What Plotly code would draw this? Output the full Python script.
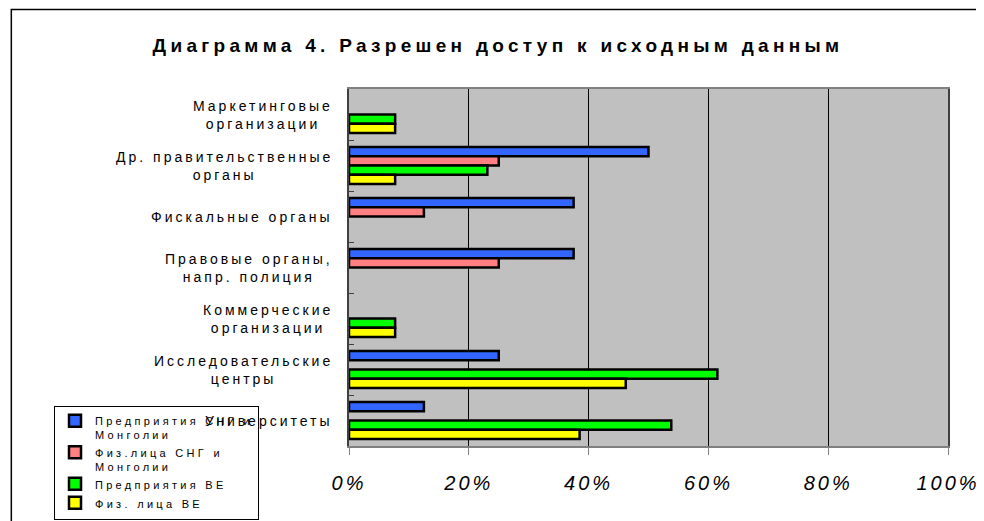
import plotly.graph_objects as go

# ---- data ----
categories = [
    "Маркетинговые организации",
    "Др. правительственные органы",
    "Фискальные органы",
    "Правовые органы, напр. полиция",
    "Коммерческие организации",
    "Исследовательские центры",
    "Университеты",
]
category_labels = [
    "Маркетинговые<br>организации",
    "Др. правительственные<br>органы",
    "Фискальные органы",
    "Правовые органы,<br>напр. полиция",
    "Коммерческие<br>организации",
    "Исследовательские<br>центры",
    "Университеты",
]
series_names = [
    "Предприятия СНГ и<br>Монголии",
    "Физ.лица СНГ и<br>Монголии",
    "Предприятия ВЕ",
    "Физ. лица ВЕ",
]
enterprises_cis = [None, 50.0, 37.5, 37.5, None, 25.0, 12.5]
persons_cis = [None, 25.0, 12.5, 25.0, None, None, None]
enterprises_we = [7.7, 23.1, None, None, 7.7, 61.5, 53.8]
persons_we = [7.7, 7.7, None, None, 7.7, 46.2, 38.5]
series_values = [enterprises_cis, persons_cis, enterprises_we, persons_we]
series_colors = ["#3366FF", "#FF8080", "#00FF00", "#FFFF00"]

x_tickvals = [0, 20, 40, 60, 80, 100]
x_ticklabels = ["0%", "20%", "40%", "60%", "80%", "100%"]

title_text = "Диаграмма 4. Разрешен доступ к исходным данным"

FONT = "Liberation Sans, Arial, sans-serif"

# page body has an 8px margin; layout below is in figure pixels
W, H = 984, 521
L, T, PW, PH = 341, 81, 604, 357


def spaced(text, px):
    parts = text.split("<br>")
    return "<br>".join(
        '<span style="letter-spacing:%gpx">%s</span>' % (px, p) for p in parts
    )


fig = go.Figure()
for name, vals, col in zip(series_names, series_values, series_colors):
    fig.add_trace(go.Bar(
        y=categories, x=vals, orientation="h",
        name=spaced(name, 3.3),
        marker=dict(color=col, line=dict(color="#000000", width=2.5)),
        hoverinfo="skip",
    ))

annotations = []
for cat, lab in zip(categories, category_labels):
    annotations.append(dict(
        x=-0.023, xref="paper", y=cat, yref="y",
        text=spaced(lab, 3), showarrow=False,
        xanchor="right", yanchor="middle", align="center",
        font=dict(family=FONT, size=14, color="#000000"),
    ))

# outer chart frame (partly outside the visible window)
fig.add_shape(
    type="rect", xref="paper", yref="paper",
    x0=(0.5 - L) / PW, x1=(W + 20 - L) / PW,
    y0=(T + PH - (H + 20)) / PH, y1=(T + PH - 1.5) / PH,
    line=dict(color="#000000", width=1.5), fillcolor="rgba(0,0,0,0)",
)

fig.update_layout(
    width=W, height=H, autosize=False,
    margin=dict(l=L, r=W - L - PW, t=T, b=H - T - PH),
    paper_bgcolor="#FFFFFF", plot_bgcolor="#C0C0C0",
    barmode="group", bargap=0.27, bargroupgap=0,
    font=dict(family=FONT, color="#000000"),
    title=dict(
        text="<b>" + spaced(title_text, 4.3) + "</b>",
        xref="container", yref="container", x=490 / W, y=1 - 37 / H,
        xanchor="center", yanchor="middle",
        font=dict(family=FONT, size=19, color="#000000"),
    ),
    xaxis=dict(
        range=[0, 100], tickvals=x_tickvals,
        ticktext=["<i>" + spaced(t, 3) + "</i>" for t in x_ticklabels],
        tickfont=dict(family=FONT, size=20, color="#000000"),
        showgrid=True, gridcolor="#000000", gridwidth=1,
        ticks="outside", ticklen=7, tickcolor="#808080", tickwidth=1,
        ticklabelstandoff=11,
        showline=True, linecolor="#808080", linewidth=2, mirror=True,
        zeroline=False, fixedrange=True,
    ),
    yaxis=dict(
        type="category", categoryorder="array", categoryarray=categories,
        autorange="reversed", showticklabels=False,
        ticks="inside", tickson="boundaries", ticklen=5,
        tickcolor="#404040", tickwidth=1,
        showgrid=False, showline=True, linecolor="#404040", linewidth=2,
        mirror=True, zeroline=False, fixedrange=True,
    ),
    legend=dict(
        xref="container", yref="container", x=46 / W, y=1 - 398 / H,
        xanchor="left", yanchor="top", traceorder="normal", valign="top",
        bgcolor="rgba(0,0,0,0)", bordercolor="#000000", borderwidth=1,
        font=dict(family=FONT, size=11, color="#000000"),
        itemclick=False, itemdoubleclick=False, tracegroupgap=0,
    ),
    annotations=annotations,
    showlegend=True,
)

fig.write_html("out.html")
